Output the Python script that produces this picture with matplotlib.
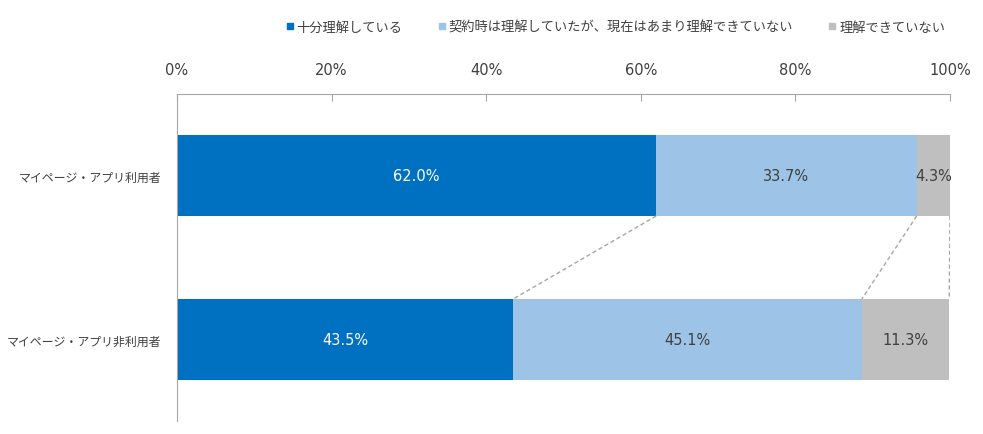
import matplotlib.pyplot as plt
from matplotlib.lines import Line2D

plt.rcParams['font.family'] = ['Noto Sans CJK JP', 'DejaVu Sans']

categories = ['マイページ・アプリ利用者', 'マイページ・アプリ非利用者']
series_names = ['十分理解している', '契約時は理解していたが、現在はあまり理解できていない', '理解できていない']
understand_well = [62.0, 43.5]
understood_before = [33.7, 45.1]
not_understand = [4.3, 11.3]
xticks = [0, 20, 40, 60, 80, 100]

colors = ['#0070C0', '#9DC3E6', '#BFBFBF']
label_colors = ['white', '#404040', '#404040']

fig = plt.figure(figsize=(9.83, 4.35), dpi=100)
ax = fig.add_axes([0.180, 0.030, 0.7864, 0.7516])

ypos = [0, 1]
bar_h = 0.494
series = [understand_well, understood_before, not_understand]
lefts = [0.0, 0.0]
edges = []
for vals, col, lc in zip(series, colors, label_colors):
    ax.barh(ypos, vals, left=lefts, height=bar_h, color=col, edgecolor='none')
    for y, l, v in zip(ypos, lefts, vals):
        ax.text(l + v / 2, y, f'{v:.1f}%', ha='center', va='center',
                color=lc, fontsize=10.5, family='DejaVu Sans')
    lefts = [l + v for l, v in zip(lefts, vals)]
    edges.append(list(lefts))

# dashed connector lines between the bars
for e in edges:
    ax.plot([e[0], e[1]], [ypos[0] + bar_h / 2, ypos[1] - bar_h / 2],
            color='#A6A6A6', linestyle=(0, (3, 2)), linewidth=1)

ax.set_xlim(0, 100)
ax.set_ylim(1.497, -0.497)
ax.set_yticks(ypos)
ax.set_yticklabels(categories, fontsize=8.6, color='#404040')
ax.xaxis.tick_top()
ax.set_xticks(xticks)
ax.set_xticklabels([f'{t}%' for t in xticks], fontsize=10.5, color='#404040',
                   family='DejaVu Sans')
ax.tick_params(axis='x', direction='in', length=5, color='#A6A6A6', pad=12)
ax.tick_params(axis='y', length=0, pad=11)
for s in ['right', 'bottom']:
    ax.spines[s].set_visible(False)
for s in ['top', 'left']:
    ax.spines[s].set_color('#A6A6A6')

handles = [Line2D([], [], marker='s', linestyle='none', markersize=5,
                  markerfacecolor=c, markeredgecolor=c) for c in colors]
fig.legend(handles, series_names, loc='center', bbox_to_anchor=(0.626, 0.935),
           ncol=3, frameon=False, fontsize=9.5, handletextpad=0.2,
           columnspacing=2.7, handlelength=0.6, labelcolor='#404040')

fig.savefig('out.png', dpi=100)
